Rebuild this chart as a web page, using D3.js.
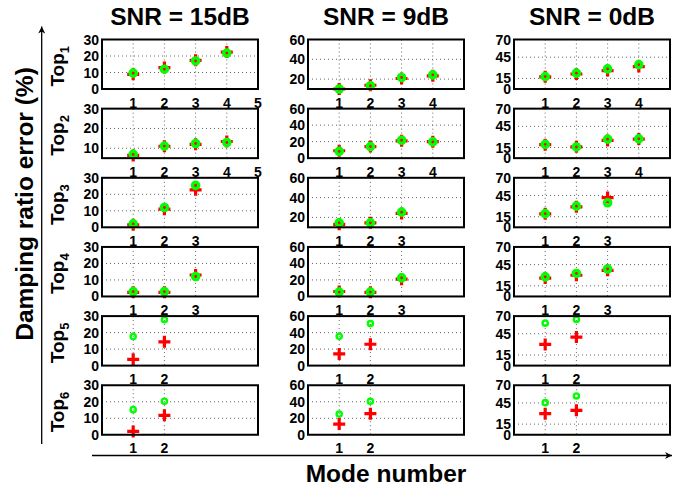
<!DOCTYPE html>
<html><head><meta charset="utf-8">
<script src="https://cdn.jsdelivr.net/npm/d3@7"></script>
<style>
html,body{margin:0;padding:0;background:#fff;}
svg{display:block;font-family:"Liberation Sans",Arial,sans-serif;font-weight:bold;}
</style></head>
<body><svg id="c" width="673" height="487"></svg>
<script>
// ---- data ----
const columnTitles = ["SNR = 15dB", "SNR = 9dB", "SNR = 0dB"];
const rowNames = ["1", "2", "3", "4", "5", "6"];
const yLabel = "Damping ratio error (%)";
const xLabel = "Mode number";

const yTicks15 = [0, 10, 20, 30];
const yTicks9 = [0, 20, 40, 60];
const yTicks0 = [0, 15, 45, 70];
const yMin15 = [0, 5, 0, 0, 0, 0];
const yMin9 = [10, 0, 10, 0, 0, 0];
const yMin0 = [0, 0, 0, 0, 0, 0];

const xTicks15 = [[1,2,3,4,5],[1,2,3,4,5],[1,2,3],[1,2,3],[1,2],[1,2]];
const xTicks9  = [[1,2,3,4],[1,2,3,4],[1,2,3],[1,2,3],[1,2],[1,2]];
const xTicks0  = [[1,2,3,4],[1,2,3,4],[1,2,3],[1,2,3],[1,2],[1,2]];

// red "+" series
const plus15 = [[8.9,13,17.4,22.4],[6.4,11,12,13.4],[1.5,11,22.7],[2.5,2.5,13],[3.8,14.4],[2,11.8]];
const plus9  = [[10,13.8,20.6,23.3],[9,14,21,20],[13,14.5,24],[6,5,21],[14.1,25.9],[13,25.6]];
const plus0  = [[17.2,21.2,26,31.7],[19,16,25,27],[19,29,42],[26,30,37],[30,40.4],[29.8,34.5]];
// green "o" series
const circle15 = [[9.6,12,17,21.8],[6.9,11.1,12.4,12.9],[2.1,12,25.4],[2.9,2.9,12.1],[17.6,27.8],[15.2,20.3]];
const circle9  = [[10,13.3,21.6,24.3],[8.2,14,21.7,19.7],[14.5,14.5,25.3],[5.3,5.3,22.5],[35.5,50.9],[25.1,40.5]];
const circle0  = [[17.6,22.4,28.4,34.5],[19.6,15.8,26.8,27.3],[19.3,29.9,34.7],[27.7,32.5,38.8],[60,65.2],[45.4,54.8]];

const cols = [
  {title: columnTitles[0], yTicks: yTicks15, yMin: yMin15, xTicks: xTicks15, plus: plus15, circ: circle15},
  {title: columnTitles[1], yTicks: yTicks9,  yMin: yMin9,  xTicks: xTicks9,  plus: plus9,  circ: circle9},
  {title: columnTitles[2], yTicks: yTicks0,  yMin: yMin0,  xTicks: xTicks0,  plus: plus0,  circ: circle0}
];

// ---- layout ----
const svg = d3.select("#c");
const colLeft = [102, 308, 514];
const axW = 156;
const rowTop0 = 39.5, rowStep = 69.15, axH = 49.5;

const defs = svg.append("defs");
defs.append("marker").attr("id","ah").attr("viewBox","0 0 10 10").attr("refX",10).attr("refY",5)
  .attr("markerWidth",10).attr("markerHeight",7).attr("markerUnits","userSpaceOnUse").attr("orient","auto")
  .append("path").attr("d","M0,0 L10,5 L0,10 L3,5 Z").attr("fill","#000");

cols.forEach((c, ci) => {
  const x = d3.scaleLinear().domain([0, 5]).range([colLeft[ci], colLeft[ci] + axW]);
  svg.append("text").attr("x", colLeft[ci] + axW / 2).attr("y", 25)
    .attr("text-anchor", "middle").attr("font-size", 24.5).text(c.title);

  rowNames.forEach((rn, ri) => {
    const top = rowTop0 + ri * rowStep;
    const yMax = c.yTicks[c.yTicks.length - 1];
    const y = d3.scaleLinear().domain([c.yMin[ri], yMax]).range([top + axH, top]);
    const g = svg.append("g");
    const yt = c.yTicks.filter(t => t >= c.yMin[ri] && t <= yMax);
    const xt = c.xTicks[ri];

    // grid
    g.selectAll(".gy").data(yt.filter(t => t > c.yMin[ri] && t < yMax)).join("line")
      .attr("x1", x(0)).attr("x2", x(5)).attr("y1", d => y(d)).attr("y2", d => y(d))
      .attr("stroke", "#666").attr("stroke-width", 1).attr("stroke-dasharray", "1,3");
    g.selectAll(".gx").data(xt.filter(t => t < 5)).join("line")
      .attr("x1", d => x(d)).attr("x2", d => x(d)).attr("y1", top).attr("y2", top + axH)
      .attr("stroke", "#666").attr("stroke-width", 1).attr("stroke-dasharray", "1,3");

    // y tick labels
    g.selectAll(".yl").data(yt).join("text")
      .attr("x", x(0) - 3).attr("y", d => y(d)).attr("dy", "0.36em")
      .attr("text-anchor", "end").attr("font-size", 14).text(d => d);
    // x tick labels
    g.selectAll(".xl").data(xt).join("text")
      .attr("x", d => x(d)).attr("y", top + axH + 18.5)
      .attr("text-anchor", "middle").attr("font-size", 14).text(d => d);

    // markers
    const big = ri < 4;
    const pl = c.plus[ri].map((v, i) => ({m: i + 1, v}));
    const cr = c.circ[ri].map((v, i) => ({m: i + 1, v}));
    const ps = 6;
    g.selectAll(".p").data(pl).join("path")
      .attr("d", d => `M${x(d.m) - ps},${y(d.v)}H${x(d.m) + ps}M${x(d.m)},${y(d.v) - ps}V${y(d.v) + ps}`)
      .attr("stroke", "#ff0000").attr("stroke-width", 3.2).attr("fill", "none");
    g.selectAll(".o").data(cr).join("circle")
      .attr("cx", d => x(d.m)).attr("cy", d => y(d.v))
      .attr("r", big ? 3.1 : 2.6)
      .attr("fill", "none").attr("stroke", "#00ff00").attr("stroke-width", big ? 3.4 : 2.4);

    // frame
    g.append("rect").attr("x", x(0)).attr("y", top).attr("width", axW).attr("height", axH)
      .attr("fill", "none").attr("stroke", "#000").attr("stroke-width", 2);

    // row labels
    if (ci === 0) {
      const t = svg.append("text").attr("transform", `translate(64,${top + axH / 2 + 2}) rotate(-90)`)
        .attr("text-anchor", "middle").attr("font-size", 19);
      t.append("tspan").text("Top");
      t.append("tspan").attr("dy", 5).attr("font-size", 13).text(rn);
    }
  });
});

// big axis arrows and labels
svg.append("line").attr("x1", 41.7).attr("x2", 41.7).attr("y1", 444).attr("y2", 26.5)
  .attr("stroke", "#000").attr("stroke-width", 1.3).attr("marker-end", "url(#ah)");
svg.append("line").attr("x1", 92).attr("x2", 672).attr("y1", 455.5).attr("y2", 455.5)
  .attr("stroke", "#000").attr("stroke-width", 1.3).attr("marker-end", "url(#ah)");
svg.append("text").attr("transform", "translate(33,204) rotate(-90)")
  .attr("text-anchor", "middle").attr("font-size", 24.5).text(yLabel);
svg.append("text").attr("x", 386).attr("y", 482)
  .attr("text-anchor", "middle").attr("font-size", 24.5).text(xLabel);
</script></body></html>
